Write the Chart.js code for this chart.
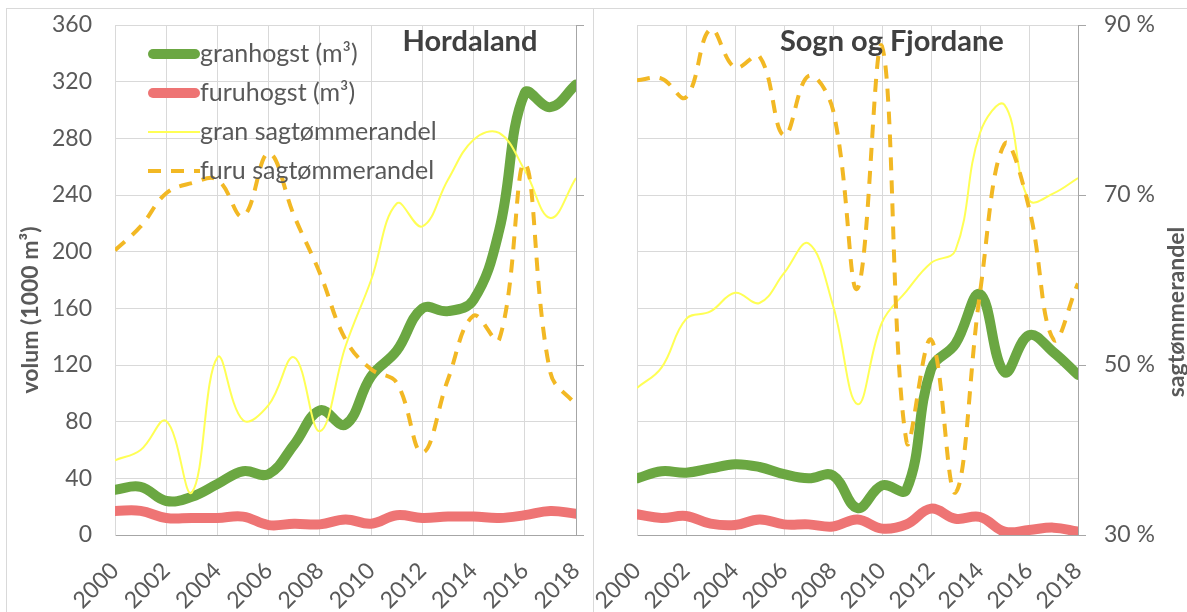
<!DOCTYPE html>
<html>
<head>
<meta charset="utf-8">
<script src="https://cdn.jsdelivr.net/npm/chart.js@4/dist/chart.umd.min.js"></script>
<style>
  body { margin: 0; background: #fff; }
  #wrap { position: relative; width: 1187px; height: 612px; overflow: hidden; background: #fff; }
  #frame { position: absolute; left: 6px; top: 8px; width: 1200px; height: 700px; border: 1px solid #d9d9d9; }
  #sep { position: absolute; left: 593px; top: 8px; width: 1px; height: 700px; background: #d9d9d9; }
  canvas { position: absolute; top: 0; }
  #c1 { left: 0; }
  #c2 { left: 594px; }
</style>
</head>
<body>
<div id="wrap">
  <div id="frame"></div>
  <div id="sep"></div>
  <canvas id="c1" width="593" height="612"></canvas>
  <canvas id="c2" width="593" height="612"></canvas>
</div>
<script>
// years on the x axis
const years = [2000, 2001, 2002, 2003, 2004, 2005, 2006, 2007, 2008, 2009,
               2010, 2011, 2012, 2013, 2014, 2015, 2016, 2017, 2018];

// Hordaland, volume in 1000 m3
const hordGran = [32, 34, 24, 27, 36, 45, 43, 64, 88, 78, 112, 130, 160, 158, 166, 215, 312, 302, 318];
const hordFuru = [17, 17, 12, 12, 12, 13, 7, 8, 7.5, 11, 8, 14, 12, 13, 13, 12, 14, 17, 15];
// Hordaland, share of sawlogs (%)
const hordGranPct = [38.8, 40, 43.4, 35, 50.9, 43.5, 45.3, 50.9, 42.2, 52.2, 60, 69, 66.3, 71.8, 76.5, 77.3, 72.9, 67.3, 72];
const hordFuruPct = [63.5, 66.3, 70.2, 71.4, 71.8, 67.5, 74.9, 67.5, 60.8, 53, 49.5, 47.9, 39.7, 48.3, 55.8, 53, 73.7, 49.1, 45.3];

// Sogn og Fjordane
const sofGran = [40, 45, 44, 47, 50, 48, 43, 40, 42, 19, 35, 32, 117, 135, 170, 115, 141, 129, 113];
const sofFuru = [14.6, 12, 13.4, 8, 7, 11, 7.5, 7.5, 6, 11, 4.5, 7.5, 18.6, 11.5, 12.7, 2.4, 3.5, 5.2, 2.4];
const sofGranPct = [47.3, 49.7, 55.4, 56.3, 58.5, 57.3, 60.8, 64.3, 57, 45.4, 55, 58.7, 62, 63.5, 77.3, 80.6, 69.4, 70.2, 72];
const sofFuruPct = [83.5, 83.7, 81.5, 89.5, 85, 86.3, 77, 84, 80, 59, 87.5, 41, 53, 35, 58.5, 76, 68.5, 53, 59.6];

const seriesNames = ['granhogst (m³)', 'furuhogst (m³)', 'gran sagtømmerandel', 'furu sagtømmerandel'];

const FONT = 'Lato';
const TXT = '#595959';
const GRID = '#d9d9d9';
const AXIS = '#a6a6a6';

Chart.defaults.font.family = FONT;

const pts = arr => years.map((y, i) => ({ x: y, y: arr[i] }));

// legend drawn inside the plot, like the excel original
const insideLegend = {
  id: 'insideLegend',
  afterDatasetsDraw(chart, args, o) {
    if (!o.show) return;
    const { ctx, chartArea } = chart;
    ctx.save();
    chart.data.datasets.forEach((ds, i) => {
      const x = chartArea.left + o.left;
      const y = chartArea.top + o.top + i * o.rowH;
      const round = ds.borderCapStyle === 'round';
      const inset = round ? ds.borderWidth / 2 : 0;
      ctx.beginPath();
      ctx.strokeStyle = ds.borderColor;
      ctx.lineWidth = ds.borderWidth;
      ctx.lineCap = ds.borderCapStyle || 'butt';
      ctx.setLineDash(ds.borderDash || []);
      ctx.moveTo(x + inset, y);
      ctx.lineTo(x + o.lineW - inset, y);
      ctx.stroke();
      ctx.setLineDash([]);
      ctx.fillStyle = TXT;
      ctx.font = o.fontSize + 'px ' + FONT;
      ctx.textBaseline = 'middle';
      ctx.textAlign = 'left';
      ctx.fillText(ds.label, x + o.lineW, y);
    });
    ctx.restore();
  }
};

// panel title and the axis titles
const panelText = {
  id: 'panelText',
  afterDraw(chart, args, o) {
    const { ctx, chartArea } = chart;
    ctx.save();
    ctx.fillStyle = '#404040';
    ctx.font = 'bold 29px ' + FONT;
    ctx.textAlign = 'center';
    ctx.textBaseline = 'middle';
    const tx = chartArea.left + o.titleX * (chartArea.right - chartArea.left);
    ctx.fillText(o.title, tx, chartArea.top + 17);
    if (o.axisTitle) {
      ctx.fillStyle = TXT;
      ctx.font = 'bold 23px ' + FONT;
      ctx.translate(o.axisX, o.axisY);
      ctx.rotate(-Math.PI / 2);
      ctx.fillText(o.axisTitle, 0, 0);
    }
    ctx.restore();
  }
};

function makeChart(id, gran, furu, granPct, furuPct, cfg) {
  const base = { pointRadius: 0, pointHoverRadius: 0, tension: 0.4, fill: false, borderJoinStyle: 'round' };
  return new Chart(document.getElementById(id), {
    type: 'line',
    data: {
      datasets: [
        Object.assign({}, base, { label: seriesNames[0], data: pts(gran), yAxisID: 'vol',
          borderColor: '#6BA742', borderWidth: 10, borderCapStyle: 'round', order: 2 }),
        Object.assign({}, base, { label: seriesNames[1], data: pts(furu), yAxisID: 'vol',
          borderColor: '#EE7474', borderWidth: 10, borderCapStyle: 'round', order: 3 }),
        Object.assign({}, base, { label: seriesNames[2], data: pts(granPct), yAxisID: 'pct',
          borderColor: '#FFFF55', borderWidth: 2, order: 1 }),
        Object.assign({}, base, { label: seriesNames[3], data: pts(furuPct), yAxisID: 'pct',
          borderColor: '#F2B824', borderWidth: 4, borderDash: [13, 10], order: 0 })
      ]
    },
    options: {
      responsive: false,
      animation: false,
      devicePixelRatio: 1,
      layout: { padding: { top: 25, left: 0, right: 0, bottom: 0 } },
      plugins: {
        legend: { display: false },
        tooltip: { enabled: false },
        insideLegend: { show: cfg.legend, left: 33, top: 29, rowH: 39, lineW: 52, fontSize: 25 },
        panelText: cfg.text
      },
      scales: {
        x: {
          type: 'linear', min: 2000, max: 2018,
          ticks: { stepSize: 2, minRotation: 45, maxRotation: 45, padding: 22, color: TXT,
                   font: { size: 23 }, callback: v => String(v) },
          grid: { color: GRID, drawTicks: false },
          border: { color: AXIS },
          afterFit: s => {
            s.height = 77;
            // rotated labels may hang outside, do not let them move the plot
            s.paddingLeft = 0;
            s.paddingRight = 0;
          }
        },
        vol: {
          type: 'linear', position: 'left', min: 0, max: 360,
          ticks: { stepSize: 40, display: cfg.volLabels, padding: 3, color: TXT, font: { size: 23 } },
          // invisible tick marks keep the labels away from the plot
          grid: { color: GRID, drawTicks: true, tickLength: 20, tickColor: 'rgba(0,0,0,0)' },
          border: { color: GRID },
          afterFit: s => { s.width = cfg.leftW; }
        },
        pct: {
          type: 'linear', position: 'right', min: 30, max: 90,
          ticks: { stepSize: 20, display: cfg.pctLabels, padding: 18, color: TXT,
                   font: { size: 23, lineHeight: 0.5 }, callback: v => v + ' %' },
          grid: { drawOnChartArea: false, tickLength: 8, tickColor: AXIS },
          border: { color: AXIS },
          afterFit: s => { s.width = cfg.rightW; }
        }
      }
    },
    plugins: [insideLegend, panelText]
  });
}

makeChart('c1', hordGran, hordFuru, hordGranPct, hordFuruPct, {
  legend: true, volLabels: true, pctLabels: false, leftW: 115, rightW: 17,
  text: { title: 'Hordaland', titleX: 0.77, axisTitle: 'volum (1000 m³)', axisX: 31, axisY: 310 }
});

makeChart('c2', sofGran, sofFuru, sofGranPct, sofFuruPct, {
  legend: false, volLabels: false, pctLabels: true, leftW: 43, rightW: 109,
  text: { title: 'Sogn og Fjordane', titleX: 0.578, axisTitle: 'sagtømmerandel', axisX: 583, axisY: 312 }
});
</script>
</body>
</html>
